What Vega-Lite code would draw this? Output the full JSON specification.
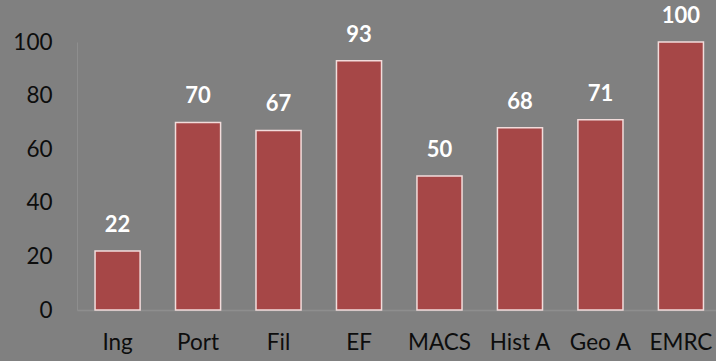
{
  "$schema": "https://vega.github.io/schema/vega-lite/v6.json",
  "width": 639,
  "height": 268,
  "autosize": {"type": "none"},
  "padding": {"left": 77, "top": 42, "right": 0, "bottom": 51},
  "background": "#808080",
  "config": {"view": {"stroke": null}, "font": "Lato"},
  "data": {"values": [
    {"cat": "Ing", "val": 22},
    {"cat": "Port", "val": 70},
    {"cat": "Fil", "val": 67},
    {"cat": "EF", "val": 93},
    {"cat": "MACS", "val": 50},
    {"cat": "Hist A", "val": 68},
    {"cat": "Geo A", "val": 71},
    {"cat": "EMRC", "val": 100}
  ]},
  "encoding": {
    "x": {"field": "cat", "type": "nominal", "sort": null,
      "scale": {"paddingInner": 0.44, "paddingOuter": 0.19, "align": 0.59},
      "axis": {"title": null, "labelAngle": 0, "labelFontSize": 22.5, "labelColor": "#0d0d0d", "labelPadding": 21, "ticks": false, "domainColor": "#8e8e8e", "domainWidth": 1.5, "labelFont": "Lato"}},
    "y": {"field": "val", "type": "quantitative",
      "scale": {"domain": [0, 100], "nice": false},
      "axis": {"title": null, "values": [0, 20, 40, 60, 80, 100], "labelFontSize": 22.5, "labelColor": "#0d0d0d", "labelPadding": 25, "ticks": false, "grid": false, "domainColor": "#8e8e8e", "domainWidth": 1, "labelFont": "Lato"}}
  },
  "layer": [
    {"mark": {"type": "bar", "color": "#A64747", "stroke": "#F2DCDB", "strokeWidth": 1.5}},
    {"mark": {"type": "text", "color": "white", "fontWeight": "bold", "fontSize": 22, "baseline": "alphabetic", "dy": -19, "font": "Lato"},
     "encoding": {"text": {"field": "val", "type": "quantitative"}}}
  ]
}
